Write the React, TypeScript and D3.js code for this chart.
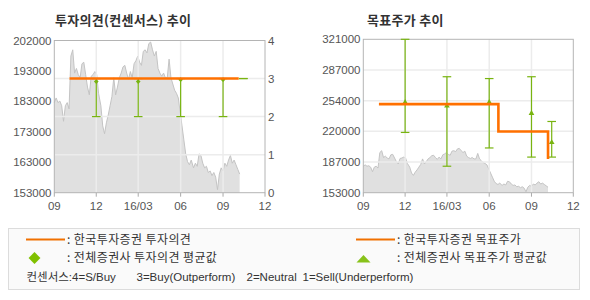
import React from "react";
import * as d3 from "d3";

// ---------- data ----------
const priceStart = new Date(2015, 8, 1);
const priceEnd = new Date(2016, 9, 7);
const priceValues = [
  182000, 183500, 182000, 182500, 181000, 176000, 181000, 182000, 180000, 197000,
  199000, 191500, 193000, 191000, 190000, 194500, 195000, 191000, 187000, 184500,
  190500, 191000, 192000, 191000, 185000, 181000, 174500, 172000, 175500, 178000,
  181000, 184000, 190000, 184500, 187000, 190000, 191500, 193500, 194000, 191500,
  189500, 192000, 190000, 194500, 195500, 197000, 195000, 194000, 198500, 199000,
  198000, 201000, 201500, 199000, 197000, 198500, 193000, 191500, 190500, 191500,
  190000, 190000, 196000, 190000, 188000, 186000, 185000, 183500, 179000, 174500,
  170000, 165500, 163000, 162000, 163500, 161000, 162500, 161500, 165500, 165000,
  162500, 161000, 161500, 159500, 160000, 158500, 159500, 158000, 154000, 159000,
  161000, 160000, 162500, 161500, 163500, 165000, 162500, 163500, 162000, 160500,
  159000,
];

const xTickDates = [
  new Date(2015, 8, 1), new Date(2015, 11, 1), new Date(2016, 2, 1),
  new Date(2016, 5, 1), new Date(2016, 8, 1), new Date(2016, 11, 1),
];
const xTickLabels = ["09", "12", "16/03", "06", "09", "12"];

// left chart
const leftPriceLabels = ["153000", "163000", "173000", "183000", "193000", "202000"];
const leftPriceDomain = [153000, 202000];
const opinionTicks = [0, 1, 2, 3, 4];
const kisOpinionDates = [new Date(2015, 9, 4), new Date(2016, 9, 5)];
const kisOpinionValues = [3, 3];
const consDates = [
  new Date(2015, 11, 1), new Date(2016, 2, 1), new Date(2016, 5, 1),
  new Date(2016, 8, 1), new Date(2016, 9, 15),
];
const consOpinionMin = [2, 2, 2, 2, 3];
const consOpinionMax = [3, 3, 3, 3, 3];
const consOpinionAvg = [2.92, 2.92, 2.97, 2.97, 3];

// right chart
const rightPriceLabels = ["153000", "187000", "220000", "254000", "287000", "321000"];
const rightPriceDomain = [153000, 321000];
const kisTargetDates = [new Date(2015, 9, 5), new Date(2016, 5, 21), new Date(2016, 9, 7)];
const kisTargetValues = [250000, 220000, 190000];
const consTargetMin = [219000, 182000, 202000, 192000, 192000];
const consTargetMax = [321000, 280000, 278000, 280000, 231000];
const consTargetAvg = [252000, 248000, 252000, 240000, 208000];

// ---------- style ----------
const ORANGE = "#ff7000";
const GREEN = "#78b410";
const FONT = "'Liberation Sans', 'Noto Sans CJK KR', sans-serif";
const KFONT = "'Noto Sans CJK KR', 'Liberation Sans', sans-serif";

const priceDates = priceValues.map((_, i) =>
  d3.timeDay.offset(priceStart, Math.round((i * d3.timeDay.count(priceStart, priceEnd)) / (priceValues.length - 1)))
);

function PriceArea({ x, price }: { x: d3.ScaleTime<number, number>; price: d3.ScaleLinear<number, number> }) {
  const area = d3
    .area<number>()
    .x((_, i) => x(priceDates[i]))
    .y0(price.range()[0])
    .y1((d) => price(d));
  const line = d3
    .line<number>()
    .x((_, i) => x(priceDates[i]))
    .y((d) => price(d));
  return (
    <g>
      <path d={area(priceValues) || ""} fill="#e0e0e0" />
      <path d={line(priceValues) || ""} fill="none" stroke="#c4c4c4" strokeWidth={1} />
    </g>
  );
}

function XAxis({ x, yBottom, yTop }: { x: d3.ScaleTime<number, number>; yBottom: number; yTop: number }) {
  return (
    <g>
      {xTickDates.map((d, i) => (
        <g key={i}>
          {i > 0 && i < xTickDates.length - 1 && (
            <line x1={x(d)} x2={x(d)} y1={yTop} y2={yBottom} stroke="#ececec" strokeWidth={1.5} />
          )}
          <line x1={x(d)} x2={x(d)} y1={yBottom} y2={yBottom + 4} stroke="#aaa" />
          <text
            x={x(d)}
            y={yBottom + 17}
            textAnchor="middle"
            fontSize={11.5}
            fontFamily={FONT}
            fill="#555"
          >
            {xTickLabels[i]}
          </text>
        </g>
      ))}
    </g>
  );
}

function ErrorBars({
  x, y, mins, maxs, avgs, marker,
}: {
  x: d3.ScaleTime<number, number>;
  y: d3.ScaleLinear<number, number>;
  mins: number[];
  maxs: number[];
  avgs: number[];
  marker: "diamond" | "triangle";
}) {
  const cap = 4.3;
  return (
    <g>
      {consDates.map((d, i) => {
        const cx = x(d);
        const ya = y(avgs[i]);
        const sym =
          marker === "diamond"
            ? d3.symbol(d3.symbolDiamond2, 14)()
            : d3.symbol(d3.symbolTriangle, 14)();
        return (
          <g key={i}>
            <line x1={cx} x2={cx} y1={y(mins[i])} y2={y(maxs[i])} stroke={GREEN} strokeWidth={1.2} />
            <line x1={cx - cap} x2={cx + cap} y1={y(mins[i])} y2={y(mins[i])} stroke={GREEN} strokeWidth={1.2} />
            <line x1={cx - cap} x2={cx + cap} y1={y(maxs[i])} y2={y(maxs[i])} stroke={GREEN} strokeWidth={1.2} />
            {!(mins[i] === maxs[i]) && (
              <path d={sym || ""} transform={`translate(${cx},${ya})`} fill={GREEN} />
            )}
          </g>
        );
      })}
    </g>
  );
}

function LeftChart() {
  const X0 = 54.3, X1 = 265, YT = 40.5, YB = 192.7;
  const x = d3.scaleTime().domain([xTickDates[0], xTickDates[5]]).range([X0, X1]);
  const price = d3.scaleLinear().domain(leftPriceDomain).range([YB, YT]);
  const op = d3.scaleLinear().domain([0, 4]).range([YB, YT]);
  const labelPos = d3.scaleLinear().domain([0, leftPriceLabels.length - 1]).range([YB, YT]);
  const kisLine = d3
    .line<number>()
    .x((_, i) => x(kisOpinionDates[i]))
    .y((d) => op(d));
  return (
    <g>
      <text x={55} y={25} fontSize={13} fontWeight="bold" fontFamily={KFONT} fill="#333" letterSpacing={0.3}>
        투자의견(컨센서스) 추이
      </text>
      <PriceArea x={x} price={price} />
      {opinionTicks.slice(1, -1).map((t) => (
        <line key={t} x1={X0} x2={X1} y1={op(t)} y2={op(t)} stroke="#ececec" strokeWidth={1.5} />
      ))}
      <XAxis x={x} yBottom={YB} yTop={YT} />
      <rect x={X0} y={YT} width={X1 - X0} height={YB - YT} fill="none" stroke="#b4b4b4" />
      {leftPriceLabels.map((l, i) => (
        <text key={l} x={51.5} y={labelPos(i)} dy="0.35em" textAnchor="end" fontSize={11.5} fontFamily={FONT} fill="#555">
          {l}
        </text>
      ))}
      {opinionTicks.map((t) => (
        <text key={t} x={268} y={op(t)} dy="0.35em" fontSize={11.5} fontFamily={FONT} fill="#555">
          {t}
        </text>
      ))}
      <ErrorBars x={x} y={op} mins={consOpinionMin} maxs={consOpinionMax} avgs={consOpinionAvg} marker="diamond" />
      <path d={kisLine(kisOpinionValues) || ""} fill="none" stroke={ORANGE} strokeWidth={2.6} />
    </g>
  );
}

function RightChart() {
  const X0 = 363.3, X1 = 573.3, YT = 39.3, YB = 192.7;
  const x = d3.scaleTime().domain([xTickDates[0], xTickDates[5]]).range([X0, X1]);
  const price = d3.scaleLinear().domain(rightPriceDomain).range([YB, YT]);
  const labelPos = d3.scaleLinear().domain([0, rightPriceLabels.length - 1]).range([YB, YT]);
  const kisLine = d3
    .line<number>()
    .x((_, i) => x(kisTargetDates[i]))
    .y((d) => price(d))
    .curve(d3.curveStepAfter);
  return (
    <g>
      <text x={367} y={25} fontSize={13} fontWeight="bold" fontFamily={KFONT} fill="#333" letterSpacing={0.3}>
        목표주가 추이
      </text>
      <PriceArea x={x} price={price} />
      {rightPriceLabels.slice(1, -1).map((l, i) => (
        <line key={l} x1={X0} x2={X1} y1={labelPos(i + 1)} y2={labelPos(i + 1)} stroke="#ececec" strokeWidth={1.5} />
      ))}
      <XAxis x={x} yBottom={YB} yTop={YT} />
      <rect x={X0} y={YT} width={X1 - X0} height={YB - YT} fill="none" stroke="#b4b4b4" />
      {rightPriceLabels.map((l, i) => (
        <text key={l} x={360.5} y={labelPos(i)} dy="0.35em" textAnchor="end" fontSize={11.5} fontFamily={FONT} fill="#555">
          {l}
        </text>
      ))}
      <ErrorBars x={x} y={price} mins={consTargetMin} maxs={consTargetMax} avgs={consTargetAvg} marker="triangle" />
      <path d={kisLine(kisTargetValues) || ""} fill="none" stroke={ORANGE} strokeWidth={2.6} />
    </g>
  );
}

function Legend() {
  const ts = { fontSize: 12, fontFamily: KFONT, fill: "#333", letterSpacing: 0.4 } as const;
  return (
    <g>
      <rect x={8.5} y={228.5} width={571} height={61} fill="#fafafa" stroke="#dcdcdc" />
      <line x1={26} x2={65} y1={239.5} y2={239.5} stroke="#f07000" strokeWidth={2} />
      <text x={67} y={239.5} dy="0.35em" {...ts}>: 한국투자증권 투자의견</text>
      <path d={d3.symbol(d3.symbolDiamond2, 90)() || ""} transform="translate(34.5,258)" fill="#80c000" />
      <text x={67} y={258} dy="0.35em" {...ts}>: 전체증권사 투자의견 평균값</text>
      <line x1={356} x2={395} y1={239.5} y2={239.5} stroke="#f07000" strokeWidth={2} />
      <text x={397} y={239.5} dy="0.35em" {...ts}>: 한국투자증권 목표주가</text>
      <path d="M356.5,262.5 L370.5,262.5 L363.5,255 Z" fill="#88c21a" />
      <text x={397} y={258} dy="0.35em" {...ts}>: 전체증권사 목표주가 평균값</text>
      <g fontSize={11.5} fontFamily={FONT} fill="#333">
        <text x={26.5} y={276.5} dy="0.35em">컨센서스:4=S/Buy</text>
        <text x={136.5} y={276.5} dy="0.35em">3=Buy(Outperform)</text>
        <text x={246.5} y={276.5} dy="0.35em">2=Neutral</text>
        <text x={302.5} y={276.5} dy="0.35em">1=Sell(Underperform)</text>
      </g>
    </g>
  );
}

export default function App() {
  return (
    <svg
      width={590}
      height={300}
      style={{ position: "absolute", left: 0, top: 0, background: "#fff" }}
    >
      <rect width={590} height={300} fill="#fff" />
      <LeftChart />
      <RightChart />
      <Legend />
    </svg>
  );
}
